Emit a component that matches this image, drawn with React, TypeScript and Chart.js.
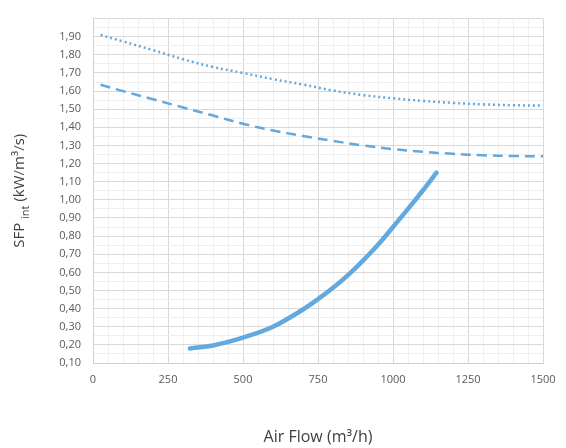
import React, { useEffect, useRef } from "react";
import { Chart, registerables } from "chart.js";

Chart.register(...registerables);

const dottedX = [25, 100, 200, 300, 400, 500, 600, 700, 800, 900, 1000, 1100, 1200, 1300, 1400, 1500];
const dottedY = [1.91, 1.874, 1.826, 1.776, 1.733, 1.7, 1.666, 1.636, 1.603, 1.578, 1.56, 1.546, 1.535, 1.527, 1.522, 1.52];
const dashedX = [25, 100, 200, 300, 400, 500, 600, 700, 800, 900, 1000, 1100, 1200, 1300, 1400, 1500];
const dashedY = [1.635, 1.6, 1.555, 1.51, 1.465, 1.42, 1.383, 1.352, 1.325, 1.3, 1.28, 1.265, 1.254, 1.246, 1.242, 1.24];
const solidX = [323, 400, 500, 600, 700, 750, 800, 850, 900, 950, 1000, 1050, 1100, 1145];
const solidY = [0.18, 0.197, 0.24, 0.3, 0.395, 0.452, 0.515, 0.585, 0.665, 0.752, 0.85, 0.95, 1.053, 1.15];

const xTitle = "Air Flow (m³/h)";
const yTitleMain = "SFP ";
const yTitleSub = "int";
const yTitleRest = " (kW/m³/s)";

const BLUE = "#62a9df";
const FONT = "'Open Sans', 'Noto Sans', sans-serif";

const pts = (xs: number[], ys: number[]) => xs.map((x, i) => ({ x, y: ys[i] }));

const yTitlePlugin = {
  id: "yTitle",
  afterDraw(chart: any) {
    const ctx = chart.ctx;
    const area = chart.chartArea;
    const cy = (area.top + area.bottom) / 2;
    const cx = 20;
    ctx.save();
    ctx.translate(cx, cy);
    ctx.rotate(-Math.PI / 2);
    ctx.fillStyle = "#404040";
    ctx.textBaseline = "middle";
    ctx.textAlign = "left";
    const big = `15px ${FONT}`;
    const small = `11px ${FONT}`;
    ctx.font = big;
    const w1 = ctx.measureText(yTitleMain).width;
    const w3 = ctx.measureText(yTitleRest).width;
    ctx.font = small;
    const w2 = ctx.measureText(yTitleSub).width;
    let x = -(w1 + w2 + w3) / 2;
    ctx.font = big;
    ctx.fillText(yTitleMain, x, 0);
    x += w1;
    ctx.font = small;
    ctx.fillText(yTitleSub, x, 6);
    x += w2;
    ctx.font = big;
    ctx.fillText(yTitleRest, x, 0);
    ctx.restore();
  },
};

export default function App() {
  const ref = useRef<HTMLCanvasElement | null>(null);
  useEffect(() => {
    if (!ref.current) return;
    const isMajorY = (v: number) => Math.abs(v * 10 - Math.round(v * 10)) < 1e-6;
    const chart = new Chart(ref.current, {
      type: "line",
      data: {
        datasets: [
          {
            data: pts(dottedX, dottedY),
            borderColor: BLUE,
            borderWidth: 2.5,
            borderDash: [2, 3],
            pointRadius: 0,
            tension: 0.4,
            fill: false,
          },
          {
            data: pts(dashedX, dashedY),
            borderColor: BLUE,
            borderWidth: 2.5,
            borderDash: [10, 6],
            pointRadius: 0,
            tension: 0.4,
            fill: false,
          },
          {
            data: pts(solidX, solidY),
            borderColor: BLUE,
            borderWidth: 4.5,
            borderCapStyle: "round",
            pointRadius: 0,
            cubicInterpolationMode: "monotone",
            fill: false,
          },
        ],
      },
      options: {
        animation: false,
        responsive: false,
        devicePixelRatio: 1,
        layout: { padding: { top: 10, right: 23, left: 0, bottom: 0 } },
        plugins: { legend: { display: false }, tooltip: { enabled: false } },
        scales: {
          x: {
            type: "linear",
            min: 0,
            max: 1500,
            afterFit: (s: any) => {
              s.height = 85;
            },
            ticks: {
              stepSize: 50,
              autoSkip: false,
              maxRotation: 0,
              padding: 10,
              color: "#595959",
              font: { family: FONT, size: 11 },
              callback: (v: any) => (Number(v) % 250 === 0 ? String(v) : ""),
            },
            grid: {
              drawTicks: false,
              color: (c: any) => (c.tick && c.tick.value % 250 === 0 ? "#d9d9d9" : "#efefef"),
              lineWidth: 1,
            },
            border: { color: "#d0d0d0" },
            title: {
              display: true,
              text: xTitle,
              color: "#404040",
              font: { family: FONT, size: 16 },
              padding: { top: 0, bottom: 1 },
            },
          },
          y: {
            type: "linear",
            min: 0.1,
            max: 2.0,
            afterFit: (s: any) => {
              s.width = 93;
            },
            ticks: {
              stepSize: 0.05,
              autoSkip: false,
              padding: 12,
              color: "#595959",
              font: { family: FONT, size: 11 },
              callback: (v: any) => {
                const n = Number(v);
                if (!isMajorY(n) || n > 1.95) return "";
                return n.toFixed(2).replace(".", ",");
              },
            },
            grid: {
              drawTicks: false,
              color: (c: any) => (c.tick && isMajorY(c.tick.value) ? "#d9d9d9" : "#efefef"),
              lineWidth: 1,
            },
            border: { color: "#d0d0d0" },
          },
        },
      },
      plugins: [yTitlePlugin],
    } as any);
    return () => chart.destroy();
  }, []);
  return (
    <div style={{ position: "fixed", left: 0, top: 0, width: 566, height: 448, background: "#fff" }}>
      <canvas ref={ref} width={566} height={448} />
    </div>
  );
}
